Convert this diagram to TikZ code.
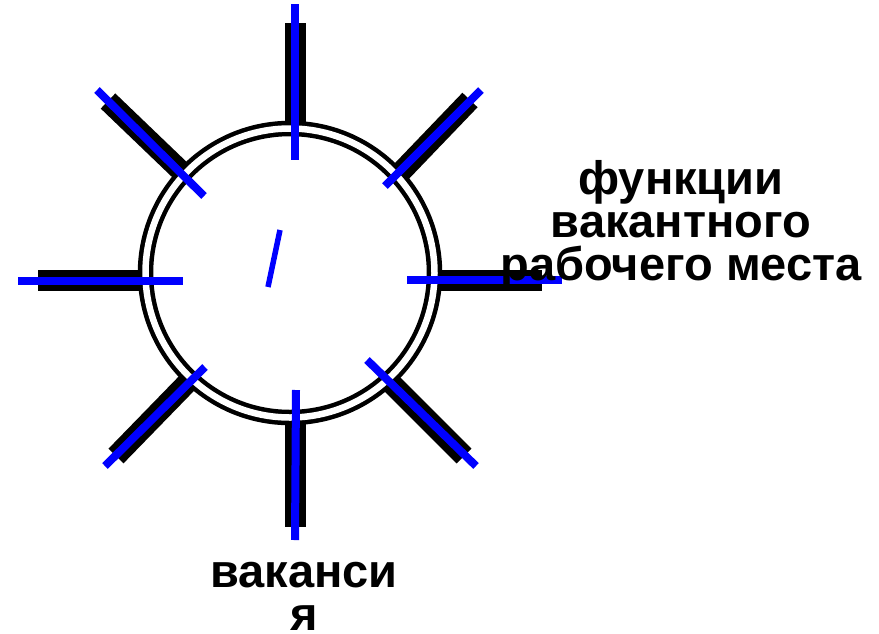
\documentclass[tikz,border=0pt]{standalone}
\usepackage{fontspec}
\setmainfont{Liberation Sans}
\usetikzlibrary{positioning}

\begin{document}
\begin{tikzpicture}[x=1pt, y=-1pt,
    % thick black spokes and the thinner blue rays over them
    spoke/.style={line width=21pt},
    ray/.style={blue, line width=8pt},
    ring/.style={circle, draw, double, line width=4.5pt, double distance=6.5pt, minimum size=289pt, inner sep=0pt},
    lbl/.style={font=\fontsize{47}{43}\selectfont\bfseries, align=center, inner sep=0pt}]

    \useasboundingbox (0,0) rectangle (879,633);

    % black spokes
    \foreach \ax/\ay/\bx/\by in {295/23/295/128, 295/422/295/527, 38/280/143/280, 435/280/542/280,
                                  399/174/470/100, 108/101/182/172, 187/383/116/456, 391/383/464/456}
        \draw[spoke] (\ax,\ay) -- (\bx,\by);

    % double circle
    \node[ring] (vac) at (290,273) {};

    % blue rays
    \foreach \ax/\ay/\bx/\by in {295/4/295/160, 296/390/295/540, 18/281/183/281, 407/280/562/280,
                                  385/186/481/90, 97/90/204/196, 205/367/105/466, 367/360/476/466}
        \draw[ray] (\ax,\ay) -- (\bx,\by);

    % small slash in the middle
    \draw[blue, line width=5.5pt] (280,230) -- (268,287);

    % labels
    \node[lbl] (fn) at (681,225) {функции\\вакантного\\рабочего места};
    \node[lbl] (vc) at (304,596) {ваканси\\я};
\end{tikzpicture}
\end{document}
